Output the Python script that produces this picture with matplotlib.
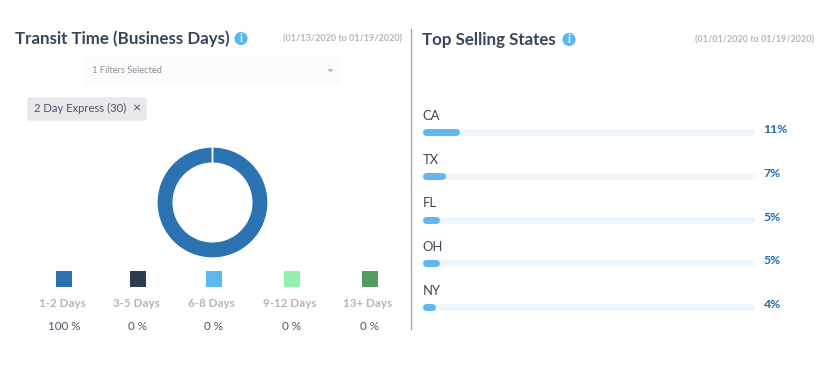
import numpy as np
import matplotlib
matplotlib.use('Agg')
import matplotlib.pyplot as plt
import matplotlib.patches as patches

plt.rcParams['font.family'] = ['Lato', 'DejaVu Sans']

W, H = 826., 367.

transit_labels = ['1-2 Days', '3-5 Days', '6-8 Days', '9-12 Days', '13+ Days']
transit_values = [100, 0, 0, 0, 0]
transit_colors = ['#2a72b0', '#2f3b4f', '#5cb8ef', '#96efb0', '#529b63']
states = ['CA', 'TX', 'FL', 'OH', 'NY']
state_values = [11, 7, 5, 5, 4]

dark = '#35475b'
grey = '#b3b5b8'


def px_axes(x0, y0, x1, y1):
    # axes placed with pixel box of the picture (y from top)
    return fig.add_axes([x0/W, 1-y1/H, (x1-x0)/W, (y1-y0)/H])


def info_icon(ax, x, y):
    ax.add_patch(patches.Circle((x, y), 6.6, facecolor='#5cb8ef', edgecolor='none'))
    ax.text(x, y+0.2, 'i', color='white', fontsize=8, fontweight='bold',
            ha='center', va='center')


fig = plt.figure(figsize=(W/100, H/100), dpi=100, facecolor='white')

# page layer in pixels
ax = fig.add_axes([0, 0, 1, 1])
ax.set_xlim(0, W)
ax.set_ylim(H, 0)
ax.axis('off')

ax.text(15, 38.5, 'Transit Time (Business Days)', color=dark, fontsize=12.15,
        fontweight='bold', ha='left', va='center')
info_icon(ax, 241, 38.5)
ax.text(402, 38.5, '(01/13/2020 to 01/19/2020)', color=grey, fontsize=6.5,
        fontweight='bold', ha='right', va='center')

ax.text(422.5, 40, 'Top Selling States', color=dark, fontsize=12.15,
        fontweight='bold', ha='left', va='center')
info_icon(ax, 569, 39.5)
ax.text(814, 39.5, '(01/01/2020 to 01/19/2020)', color=grey, fontsize=6.5,
        fontweight='bold', ha='right', va='center')

ax.plot([411, 411], [29, 329], color='#a2a2a2', lw=0.9)

# filter box and chip
ax.add_patch(patches.Rectangle((85, 57), 255, 27, facecolor='#fbfbfb', edgecolor='none'))
ax.text(92, 70.5, '1 Filters Selected', color='#8b8f99', fontsize=6.7,
        ha='left', va='center')
ax.add_patch(patches.Polygon([[327.5, 69], [333.5, 69], [330.5, 72.5]],
                             facecolor='#b5b7bb', edgecolor='none'))
ax.add_patch(patches.FancyBboxPatch((28, 98), 118, 22, boxstyle='round,pad=0,rounding_size=1.5',
                                    facecolor='#e9e9ec', edgecolor='#e9e9ec', lw=1))
ax.text(34.5, 108.5, '2 Day Express (30)', color='#4b5563', fontsize=8.1,
        ha='left', va='center')
ax.text(136, 108.5, '\u00d7', color='#4b5563', fontsize=10, ha='center', va='center')

# legend below the donut
legend_x = [64, 138, 213.5, 292, 370]
label_x = [62, 136, 211.5, 290, 367.5]
for i in range(5):
    ax.add_patch(patches.Rectangle((legend_x[i]-8, 270.5), 16, 16,
                                   facecolor=transit_colors[i], edgecolor='none'))
    ax.text(label_x[i], 303.5, transit_labels[i], color=grey, fontsize=8.4,
            fontweight='bold', ha='center', va='center')
    ax.text(legend_x[i], 326, '%d %%' % transit_values[i], color='#4b5563',
            fontsize=8.4, ha='center', va='center')

# donut
ax_d = px_axes(152, 142, 273, 263)
ax_d.pie(transit_values, colors=transit_colors, startangle=90, radius=1.0,
         wedgeprops=dict(width=0.29, edgecolor='white', linewidth=0.9))
ax_d.set_xlim(-60.5/55.5, 60.5/55.5)
ax_d.set_ylim(-60.5/55.5, 60.5/55.5)

# state bars
ax_b = px_axes(422.5, 110.1, 755.5, 328.9)
ax_b.set_xlim(0, 100)
ax_b.set_ylim(4.5, -0.5)
ax_b.axis('off')
cap = 3.5/3.33
y_pos = np.arange(len(states))
ax_b.hlines(y_pos, cap, 100-cap, color='#eff7fd', lw=5.0, capstyle='round')
ax_b.hlines(y_pos, cap, np.array(state_values)-cap, color='#5cb8ef', lw=5.0,
            capstyle='round')
for i in range(len(states)):
    ax_b.annotate(states[i], (0, y_pos[i]), xytext=(0, 11.6), textcoords='offset points',
                  color='#3d4652', fontsize=9.4, ha='left', va='center')
    ax_b.annotate('%d%%' % state_values[i], (100, y_pos[i]), xytext=(5.8, 1.7),
                  textcoords='offset points', color='#1f69a8', fontsize=8.8,
                  fontweight='bold', ha='left', va='center')

plt.savefig('out.png', dpi=100)
